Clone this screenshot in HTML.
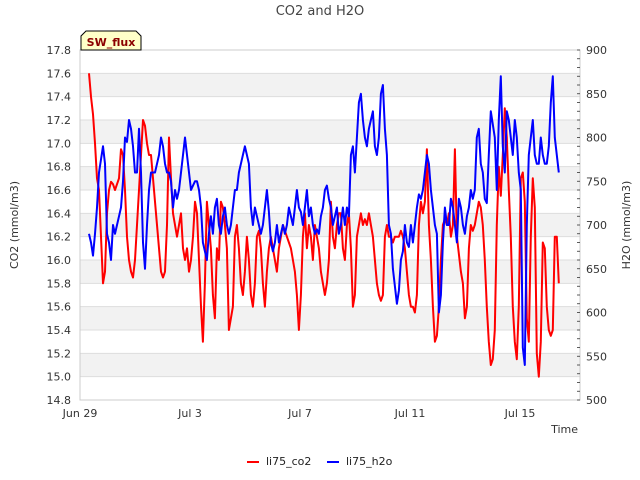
<!DOCTYPE html>
<html><head><meta charset="utf-8"><style>
html,body{margin:0;padding:0;background:#fff;}
svg{display:block;font-family:"DejaVu Sans","Liberation Sans",sans-serif;}
</style></head><body>
<svg id="chart" width="640" height="480">
<text x="320" y="15" text-anchor="middle" font-size="13" fill="#444">CO2 and H2O</text>
<g id="bands"></g><g id="grid"></g>
<rect x="80" y="50" width="500" height="350" fill="none" stroke="#ccc"/>
<g id="axes"></g>
<g id="series"></g>
<g>
<path d="M81,50 L81,36 L86,31 L136,31 L141,36 L141,50 Z" fill="#ffffc8" stroke="#000" stroke-width="1"/>
<text x="111" y="46" text-anchor="middle" font-size="11" font-weight="bold" fill="#8b0000">SW_flux</text>
</g>
<text transform="translate(18,225) rotate(-90)" text-anchor="middle" font-size="11" fill="#333">CO2 (mmol/m3)</text>
<text transform="translate(630,225) rotate(-90)" text-anchor="middle" font-size="11" fill="#333">H2O (mmol/m3)</text>
<text x="578" y="433" text-anchor="end" font-size="11" fill="#333">Time</text>
<g><line x1="247" y1="462" x2="259" y2="462" stroke="#f00" stroke-width="2"/><text x="266" y="465" font-size="11" fill="#222">li75_co2</text></g>
<g><line x1="327" y1="462" x2="339" y2="462" stroke="#00f" stroke-width="2"/><text x="346" y="465" font-size="11" fill="#222">li75_h2o</text></g>
</svg>
<script>
const leftTicks=[14.8,15.0,15.2,15.4,15.6,15.8,16.0,16.2,16.4,16.6,16.8,17.0,17.2,17.4,17.6,17.8];
const rightTicks=[500,550,600,650,700,750,800,850,900];
const xTickDays=[0,4,8,12,16];
const xTickLabels=["Jun 29","Jul 3","Jul 7","Jul 11","Jul 15"];
const sampleStartDay=0.327;
const sampleStepDay=0.0727;
const co2Values=[17.6,17.4,17.25,17.0,16.7,16.6,16.2,15.8,15.9,16.4,16.6,16.67,16.65,16.6,16.65,16.7,16.95,16.9,16.6,16.2,16.0,15.9,15.85,16.0,16.3,16.6,16.9,17.2,17.15,17.0,16.9,16.9,16.7,16.5,16.3,16.1,15.9,15.85,15.9,16.3,17.05,16.7,16.4,16.3,16.2,16.3,16.4,16.1,16.0,16.1,15.9,16.0,16.2,16.5,16.4,16.0,15.6,15.3,15.8,16.5,16.3,16.1,15.7,15.5,16.1,16.0,16.5,16.45,16.3,16.1,15.4,15.5,15.6,16.2,16.3,16.1,15.8,15.7,15.9,16.2,16.0,15.7,15.6,15.8,16.2,16.25,16.1,15.8,15.6,15.9,16.1,16.2,16.1,16.0,15.9,16.1,16.2,16.3,16.25,16.2,16.15,16.1,16.0,15.9,15.7,15.4,15.7,16.2,16.4,16.1,16.3,16.2,16.0,16.3,16.2,16.1,15.9,15.8,15.7,15.8,16.0,16.5,16.2,16.1,16.3,16.4,16.4,16.1,16.0,16.3,16.4,16.1,15.6,15.7,16.2,16.3,16.4,16.3,16.35,16.3,16.4,16.3,16.2,16.0,15.8,15.7,15.65,15.7,16.2,16.3,16.2,16.2,16.15,16.2,16.2,16.2,16.25,16.2,16.1,15.9,15.7,15.6,15.6,15.55,15.7,16.3,16.5,16.4,16.5,16.95,16.3,16.0,15.6,15.3,15.35,15.6,16.0,16.3,16.35,16.3,16.4,16.2,16.3,16.95,16.2,16.05,15.9,15.8,15.5,15.6,16.1,16.3,16.25,16.3,16.4,16.5,16.45,16.3,16.0,15.6,15.3,15.1,15.15,15.4,16.3,16.8,16.55,16.9,17.3,17.05,16.6,16.2,15.6,15.3,15.15,15.6,16.7,16.75,16.5,15.5,15.3,16.2,16.7,16.45,15.2,15.0,15.3,16.15,16.1,15.6,15.4,15.35,15.4,16.2,16.2,15.8];
const h2oValues=[690,680,665,690,720,760,775,790,770,690,680,660,700,690,700,710,720,750,800,795,820,810,790,760,760,810,760,680,650,700,740,760,760,760,770,780,800,790,770,760,760,750,720,740,730,740,760,780,800,780,760,740,745,750,750,740,720,680,670,660,690,710,690,720,730,700,690,710,720,700,690,700,720,740,740,760,770,780,790,780,770,720,700,720,710,700,690,700,720,740,715,680,670,680,700,680,690,700,690,700,720,710,700,720,740,720,715,700,720,740,710,720,700,690,695,690,710,720,740,745,730,720,700,710,720,690,700,720,700,720,710,780,790,760,800,840,850,820,800,790,810,820,830,790,780,800,850,860,810,780,700,690,650,630,610,625,660,670,700,680,675,700,680,700,720,735,730,740,760,780,770,740,720,700,690,600,620,680,720,700,700,730,720,700,680,730,720,700,690,710,720,740,730,740,800,810,770,760,730,725,780,830,815,800,740,820,870,790,760,830,820,800,780,820,800,760,740,560,540,700,780,800,820,780,770,770,800,780,770,770,790,840,870,800,780,760];

const X=d=>80+d*27.5;
const YL=v=>400-(v-14.8)*350/3.0;
const YR=v=>400-(v-500)*350/400;
const NS='http://www.w3.org/2000/svg';
const svg=document.getElementById('chart');
function mk(tag,attrs,parent){const e=document.createElementNS(NS,tag);for(const k in attrs)e.setAttribute(k,attrs[k]);parent.appendChild(e);return e;}
const bands=document.getElementById('bands'),grid=document.getElementById('grid'),axes=document.getElementById('axes'),series=document.getElementById('series');
for(let i=1;i<leftTicks.length-1;i+=2){
  const b=mk('rect',{x:80,y:YL(leftTicks[i+1]),width:500,height:YL(leftTicks[i])-YL(leftTicks[i+1]),fill:'#f2f2f2'},bands);
  
  
}
leftTicks.forEach(v=>{
  const l=mk('line',{x1:80,x2:580,y1:YL(v),y2:YL(v),stroke:'#ddd'},grid);
  
  
  const t=mk('text',{x:71,y:YL(v)+4,'text-anchor':'end','font-size':11,fill:'#333'},axes);
  t.textContent=v.toFixed(1);
  
  
});
rightTicks.forEach(v=>{
  const t=mk('text',{x:586,y:YR(v)+4,'font-size':11,fill:'#333'},axes);
  t.textContent=v;
  
  
});
for(let v=500;v<=900;v+=10){
  const m=mk('line',{x1:577,x2:580,y1:YR(v),y2:YR(v),stroke:'#333','stroke-width':0.8},axes);
  
  
}
xTickDays.forEach((d,i)=>{
  const t=mk('text',{x:X(d),y:417,'text-anchor':'middle','font-size':11,fill:'#333'},axes);
  t.textContent=xTickLabels[i];
  
  
});
function line(vals,ys,color,name){
  const pts=vals.map((v,i)=>X(sampleStartDay+i*sampleStepDay).toFixed(1)+','+ys(v).toFixed(1)).join(' ');
  const p=mk('polyline',{points:pts,fill:'none',stroke:color,'stroke-width':2,'stroke-linejoin':'round'},series);
  
  
}
line(co2Values,YL,'#f00','co2-line');
line(h2oValues,YR,'#00f','h2o-line');
</script>
</body></html>
